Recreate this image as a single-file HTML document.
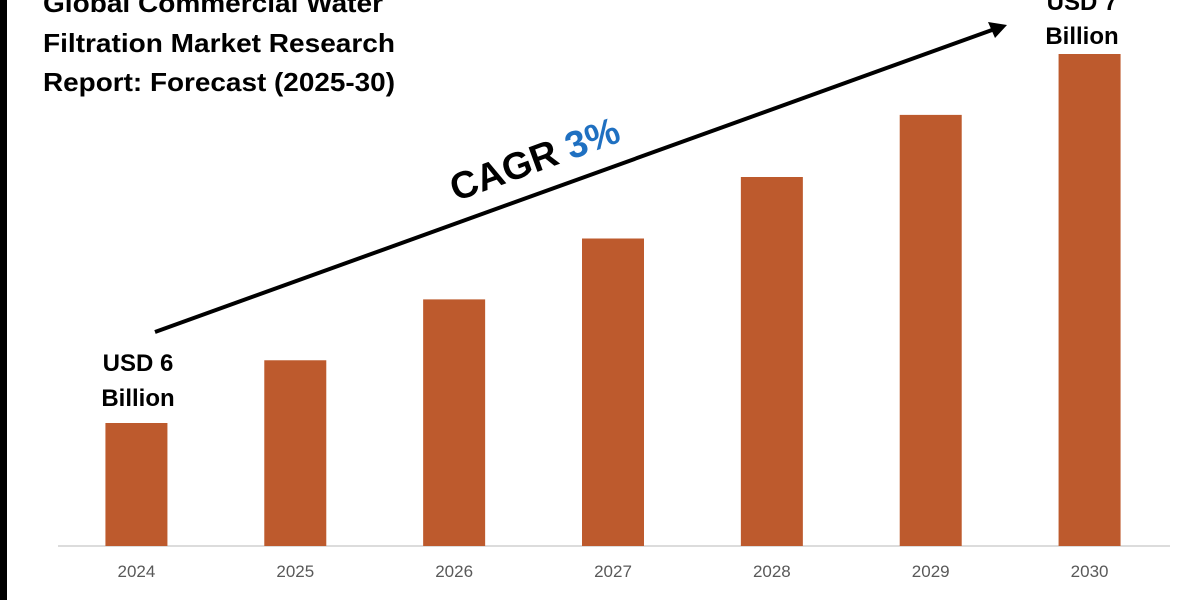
<!DOCTYPE html>
<html><head><meta charset="utf-8"><style>
html,body{margin:0;padding:0;background:#fff;}
svg{display:block;font-family:"Liberation Sans",sans-serif;}
</style></head><body>
<svg id="chart" width="1200" height="600" viewBox="0 0 1200 600">
<rect x="0" y="0" width="7" height="600" fill="#000"/>
<g font-weight="bold" font-size="26" fill="#000">
<text x="43" y="12" textLength="340" lengthAdjust="spacingAndGlyphs">Global Commercial Water</text>
<text x="43" y="52" textLength="352" lengthAdjust="spacingAndGlyphs">Filtration Market Research</text>
<text x="43" y="91" textLength="352" lengthAdjust="spacingAndGlyphs">Report: Forecast (2025-30)</text>
</g>
<line x1="58" y1="546" x2="1170" y2="546" stroke="#d0d0d0" stroke-width="1.5"/>
<g id="bars"></g>
<g id="xlabels"></g>
<g>
<line x1="155" y1="332" x2="992" y2="30" stroke="#000" stroke-width="4"/>
<polygon points="1007,25 988,22 995,38" fill="#000"/>
</g>
<text x="535" y="172" font-size="38" font-weight="bold" transform="rotate(-20 535 160)" text-anchor="middle">CAGR <tspan fill="#1f70c1">3%</tspan></text>
<g font-weight="bold" font-size="24" text-anchor="middle">
<text x="138" y="371">USD 6</text><text x="138" y="406">Billion</text>
</g>
<g font-weight="bold" font-size="24" text-anchor="middle">
<text x="1082" y="10">USD 7</text><text x="1082" y="44">Billion</text>
</g>
</svg>
<script>
const categories = ["2024","2025","2026","2027","2028","2029","2030"];
const values = [2, 3.02, 4.01, 5, 6, 7.01, 8];
const xLeft = 58, xRight = 1170, baseY = 546, pxPerUnit = 61.5, barW = 62;
const step = (xRight - xLeft) / categories.length;
function xCenter(i){ return xLeft + step*(i+0.5) - 1; }
function yScale(v){ return baseY - v*pxPerUnit; }
const ns = "http://www.w3.org/2000/svg";
const bars = document.getElementById("bars");
const xl = document.getElementById("xlabels");
categories.forEach((c,i)=>{
  const r = document.createElementNS(ns,"rect");
  
  
  r.setAttribute("x", xCenter(i)-barW/2);
  r.setAttribute("y", yScale(values[i]));
  r.setAttribute("width", barW);
  r.setAttribute("height", baseY - yScale(values[i]));
  r.setAttribute("fill", "#bd5a2d");
  bars.appendChild(r);
  const t = document.createElementNS(ns,"text");
  
  
  t.setAttribute("x", xCenter(i));
  t.setAttribute("y", 577);
  t.setAttribute("text-anchor","middle");
  t.setAttribute("font-size","17");
  t.setAttribute("fill","#595959");
  t.textContent = c;
  xl.appendChild(t);
});
</script>
</body></html>
